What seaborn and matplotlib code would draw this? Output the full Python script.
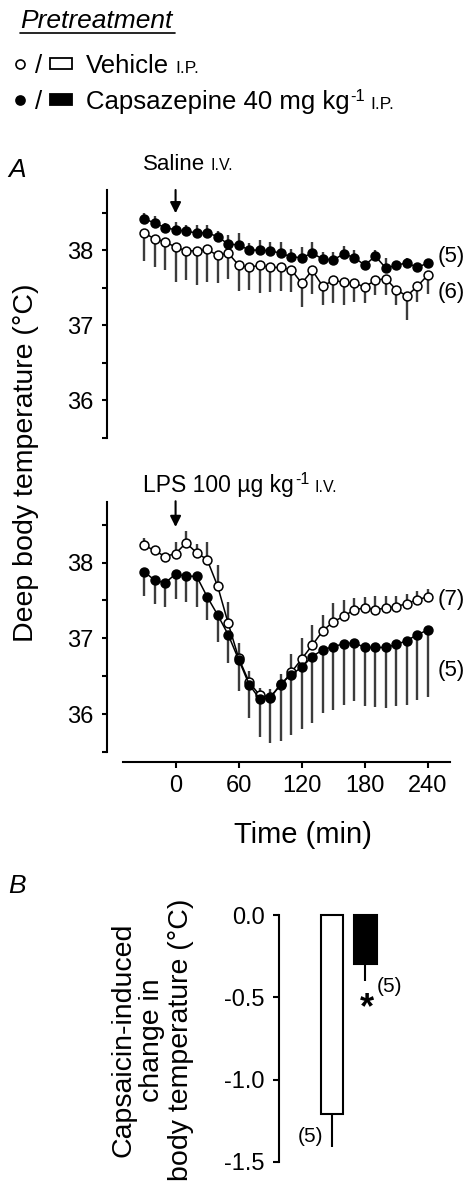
import numpy as np
import pandas as pd
import seaborn as sns
import matplotlib.pyplot as plt
from matplotlib.patches import Rectangle

sns.set_style("ticks")
plt.rcParams["font.family"] = ["Liberation Sans", "DejaVu Sans"]
plt.rcParams["axes.unicode_minus"] = False
for k in ["text.color", "axes.labelcolor", "axes.edgecolor", "xtick.color",
          "ytick.color", "xtick.labelcolor", "ytick.labelcolor"]:
    plt.rcParams[k] = "black"

# figure size in pixels (dpi 100)
W, H = 467, 1187

# Data
time_min = [-30, -20, -10, 0, 10, 20, 30, 40, 50, 60, 70, 80, 90, 100,
            110, 120, 130, 140, 150, 160, 170, 180, 190, 200, 210, 220, 230, 240]

# A, saline i.v.
saline_vehicle = [38.23, 38.15, 38.11, 38.04, 37.99, 37.99, 38.01, 37.93, 37.96, 37.80,
                  37.77, 37.80, 37.77, 37.77, 37.74, 37.56, 37.73, 37.52, 37.60, 37.57,
                  37.56, 37.51, 37.60, 37.62, 37.47, 37.39, 37.52, 37.67]
saline_vehicle_se = [0.38, 0.38, 0.37, 0.46, 0.39, 0.45, 0.43, 0.37, 0.34, 0.35,
                     0.30, 0.37, 0.33, 0.32, 0.30, 0.32, 0.31, 0.25, 0.31, 0.30,
                     0.25, 0.22, 0.20, 0.22, 0.20, 0.32, 0.21, 0.25]
saline_cpz = [38.42, 38.36, 38.30, 38.27, 38.25, 38.23, 38.23, 38.18, 38.08, 38.07,
              38.00, 38.00, 37.99, 37.96, 37.91, 37.90, 37.96, 37.88, 37.87, 37.95,
              37.90, 37.80, 37.92, 37.76, 37.80, 37.83, 37.77, 37.83]
saline_cpz_se = [0.08, 0.10, 0.06, 0.10, 0.08, 0.10, 0.10, 0.08, 0.12, 0.16,
                 0.10, 0.14, 0.12, 0.15, 0.10, 0.14, 0.15, 0.10, 0.10, 0.10,
                 0.10, 0.06, 0.08, 0.14, 0.06, 0.06, 0.05, 0.05]

# A, LPS i.v.
lps_vehicle = [38.23, 38.16, 38.08, 38.12, 38.26, 38.13, 38.04, 37.69, 37.20, 36.74,
               36.42, 36.25, 36.23, 36.38, 36.55, 36.73, 36.91, 37.10, 37.22, 37.29,
               37.38, 37.40, 37.38, 37.40, 37.42, 37.46, 37.51, 37.55]
lps_vehicle_se = [0.10, 0.05, 0.05, 0.15, 0.16, 0.11, 0.23, 0.28, 0.28, 0.20,
                  0.15, 0.10, 0.10, 0.15, 0.25, 0.28, 0.27, 0.21, 0.25, 0.22,
                  0.15, 0.15, 0.18, 0.16, 0.14, 0.12, 0.12, 0.10]
lps_cpz = [37.88, 37.77, 37.73, 37.85, 37.82, 37.82, 37.55, 37.31, 37.05, 36.72,
           36.39, 36.20, 36.21, 36.40, 36.52, 36.62, 36.76, 36.85, 36.89, 36.93,
           36.94, 36.88, 36.88, 36.88, 36.92, 36.97, 37.05, 37.11]
lps_cpz_se = [0.32, 0.31, 0.31, 0.33, 0.34, 0.40, 0.31, 0.36, 0.37, 0.41,
              0.44, 0.50, 0.59, 0.75, 0.79, 0.82, 0.88, 0.83, 0.83, 0.81,
              0.77, 0.77, 0.78, 0.80, 0.81, 0.85, 0.87, 0.89]

# B
bar_groups = ["Vehicle", "Capsazepine"]
bar_change = [-1.21, -0.30]
bar_se = [0.20, 0.10]


def fx(px):
    return px / W


def fy(py):
    return 1 - py / H


fig = plt.figure(figsize=(W / 100, H / 100), dpi=100)

# overlay in pixel coords for free text
ov = fig.add_axes([0, 0, 1, 1], zorder=-1)
ov.set_xlim(0, W)
ov.set_ylim(H, 0)
ov.axis("off")
renderer = fig.canvas.get_renderer()


def chain(x, y, parts, ax=ov):
    # parts: (text, size, raise, gap before)
    for s, size, dy, gap in parts:
        t = ax.text(x + gap, y - dy, s, fontsize=size, va="baseline", ha="left")
        x = ax.transData.inverted().transform(
            (t.get_window_extent(renderer).x1, 0))[0]


def plot_series(ax, y, se, filled, err_up):
    se = np.array(se)
    zeros = np.zeros(len(se))
    yerr = [zeros, se] if err_up else [se, zeros]
    ax.errorbar(time_min, y, yerr=yerr, fmt="none", ecolor="#3c3c3c",
                elinewidth=1.7, capsize=0, zorder=1)
    sns.lineplot(x=time_min, y=y, ax=ax, color="black", lw=1.1, marker="o",
                 markersize=6.4, markerfacecolor="black" if filled else "white",
                 markeredgecolor="black", markeredgewidth=1.1, zorder=3)


def style_temp_axis(ax, show_x):
    ax.set_xlim(-50, 261)
    ax.set_ylim(35.5, 38.8)
    for s in ["top", "right"]:
        ax.spines[s].set_visible(False)
    ax.spines["left"].set_position(("outward", 11.5))
    ax.spines["left"].set_linewidth(1.5)
    ax.set_yticks([36, 37, 38])
    ax.set_yticklabels(["36", "37", "38"])
    ax.set_yticks([35.5, 36.5, 37.5, 38.5], minor=True)
    ax.tick_params(axis="y", which="both", length=3.6, width=1.5,
                   labelsize=17, pad=6)
    if show_x:
        ax.spines["bottom"].set_position(("outward", 7.2))
        ax.spines["bottom"].set_linewidth(1.5)
        ax.set_xticks([0, 60, 120, 180, 240])
        ax.set_xticklabels(["0", "60", "120", "180", "240"])
        ax.tick_params(axis="x", length=4, width=1.5, labelsize=17, pad=5)
    else:
        ax.spines["bottom"].set_visible(False)
        ax.set_xticks([])
    ax.set_xlabel("")
    ax.set_ylabel("")
    ax.patch.set_alpha(0)


# Panel A, saline
ax1 = fig.add_axes([fx(123), fy(438), fx(450) - fx(123), (438 - 190) / H])
plot_series(ax1, saline_vehicle, saline_vehicle_se, filled=False, err_up=False)
plot_series(ax1, saline_cpz, saline_cpz_se, filled=True, err_up=True)
style_temp_axis(ax1, show_x=False)
ax1.annotate("", xy=(0, 38.49), xytext=(0, 38.8), annotation_clip=False,
             arrowprops=dict(arrowstyle="-|>", color="black", lw=1.5,
                             mutation_scale=16, shrinkA=0, shrinkB=0))
ax1.text(249, 37.91, "(5)", fontsize=16, va="center", ha="left", clip_on=False)
ax1.text(249, 37.43, "(6)", fontsize=16, va="center", ha="left", clip_on=False)

# Panel A, LPS
ax2 = fig.add_axes([fx(123), fy(752), fx(450) - fx(123), (752 - 502) / H])
plot_series(ax2, lps_vehicle, lps_vehicle_se, filled=False, err_up=True)
plot_series(ax2, lps_cpz, lps_cpz_se, filled=True, err_up=False)
style_temp_axis(ax2, show_x=True)
ax2.annotate("", xy=(0, 38.47), xytext=(0, 38.81), annotation_clip=False,
             arrowprops=dict(arrowstyle="-|>", color="black", lw=1.5,
                             mutation_scale=16, shrinkA=0, shrinkB=0))
ax2.text(249, 37.51, "(7)", fontsize=16, va="center", ha="left", clip_on=False)
ax2.text(249, 36.57, "(5)", fontsize=16, va="center", ha="left", clip_on=False)

# Panel B
axb = fig.add_axes([fx(279), fy(1162), fx(420) - fx(279), (1162 - 915) / H])
df_bar = pd.DataFrame({"group": bar_groups, "change": bar_change})
sns.barplot(data=df_bar, x="group", y="change", hue="group",
            palette=["white", "black"], edgecolor="black", linewidth=1.5,
            width=0.67, errorbar=None, legend=False, ax=axb)
for p in axb.patches:
    p.set_clip_on(False)
axb.errorbar([0, 1], bar_change, yerr=[bar_se, [0, 0]], fmt="none",
             ecolor="black", elinewidth=1.5, capsize=0, zorder=0)
axb.set_xlim(-1.58, 2.63)
axb.set_ylim(-1.5, 0)
for s in ["top", "right", "bottom"]:
    axb.spines[s].set_visible(False)
axb.spines["left"].set_linewidth(1.5)
axb.set_xticks([])
axb.set_yticks([0, -0.5, -1.0, -1.5])
axb.set_yticklabels(["0.0", "-0.5", "-1.0", "-1.5"])
axb.tick_params(axis="y", length=4.3, width=1.5, labelsize=17, pad=6)
axb.set_xlabel("")
axb.set_ylabel("")
axb.patch.set_alpha(0)
axb.text(1.04, -0.57, "*", fontsize=26, fontweight="bold", ha="center",
         va="center", clip_on=False)
axb.text(1.34, -0.436, "(5)", fontsize=15, ha="left", va="center", clip_on=False)
axb.text(-0.27, -1.345, "(5)", fontsize=15, ha="right", va="center", clip_on=False)

# legend block at the top
ov.text(20, 28, "Pretreatment", fontsize=19, style="italic", va="baseline")
ov.plot([20, 175], [32.5, 32.5], color="black", lw=1.2)
ov.plot([20], [64], marker="o", markersize=6.5, markerfacecolor="white",
        markeredgecolor="black", markeredgewidth=1.2)
ov.text(35, 73, "/", fontsize=18.5, va="baseline")
ov.add_patch(Rectangle((50, 58), 22, 11, facecolor="white", edgecolor="black", lw=1.3))
chain(86, 73, [("Vehicle", 18.5, 0, 0), ("I.P.", 12.5, 0, 6)])
ov.plot([20], [100], marker="o", markersize=6.5, markerfacecolor="black",
        markeredgecolor="black", markeredgewidth=1.2)
ov.text(35, 109, "/", fontsize=18.5, va="baseline")
ov.add_patch(Rectangle((50, 94), 22, 11, facecolor="black", edgecolor="black", lw=1.3))
chain(86, 109, [("Capsazepine 40 mg kg", 18.5, 0, 0), ("-1", 12, 8, 1),
                ("I.P.", 12.5, 0, 5)])

# panel letters and annotations
ov.text(8, 177, "A", fontsize=19, style="italic", va="baseline")
ov.text(8, 893, "B", fontsize=19, style="italic", va="baseline")
chain(143, 170, [("Saline", 16, 0, 0), ("I.V.", 11.5, 0, 5)])
chain(143, 492, [("LPS 100 µg kg", 16.5, 0, 0), ("-1", 11.5, 8, 1),
                 ("I.V.", 11.5, 0, 6)])

# shared axis labels
ov.text(26, 463, "Deep body temperature (°C)", fontsize=20.5, rotation=90,
        ha="center", va="center")
ov.text(303, 835, "Time (min)", fontsize=21, ha="center", va="center")
ov.text(152, 1040, "Capsaicin-induced\nchange in\nbody temperature (°C)",
        fontsize=20.5, rotation=90, ha="center", va="center",
        multialignment="center", linespacing=1.15)

fig.savefig("out.png", dpi=100)
